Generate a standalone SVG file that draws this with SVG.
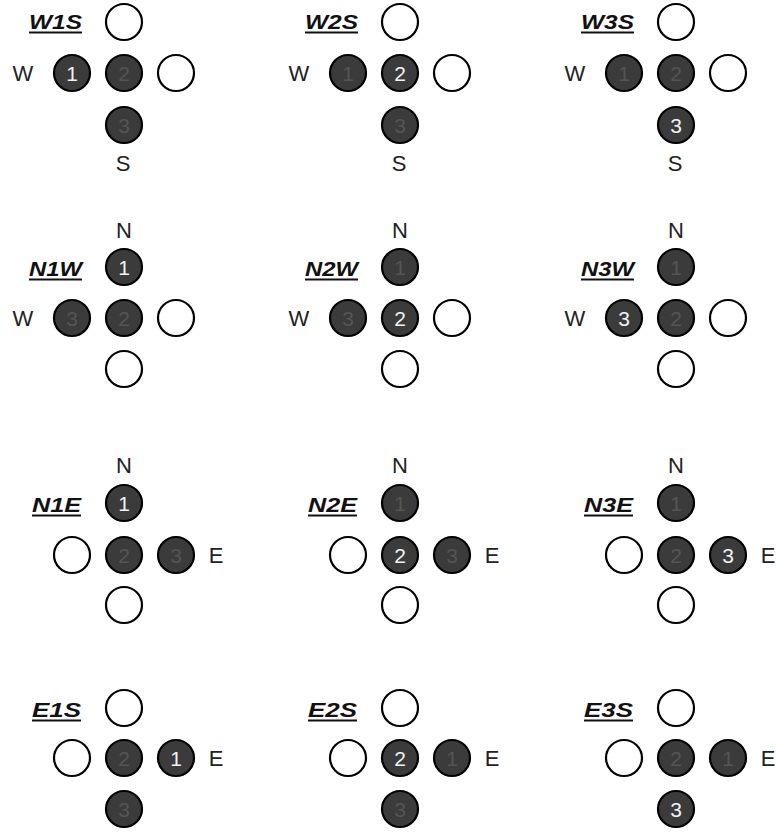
<svg xmlns="http://www.w3.org/2000/svg" width="776" height="832" viewBox="0 0 776 832">
<style>
.e{fill:#fff;stroke:#000;stroke-width:2.2}
.f{fill:#3b3b3b;stroke:#000;stroke-width:2.2}
.n{font-family:"Liberation Sans",Arial,sans-serif;font-size:21px;text-anchor:middle}
.h{fill:#f2f2f2}
.d{fill:#555}
.dir{font-family:"Liberation Sans",Arial,sans-serif;font-size:22px;fill:#222;text-anchor:middle}
.lab{font-family:"Liberation Sans",Arial,sans-serif;font-size:20px;font-weight:bold;font-style:italic;fill:#111}
.ul{stroke:#111;stroke-width:2}
</style>
<rect width="776" height="832" fill="#fff"/>
<g id="connectors"/>

<!-- Row 1: W?S -->
<g id="W1S">
<text class="lab" x="29" y="29" textLength="53" lengthAdjust="spacingAndGlyphs">W1S</text><line class="ul" x1="29" y1="32.5" x2="82" y2="32.5"/>
<circle class="e" cx="124" cy="22" r="18"/>
<circle class="f" cx="72" cy="73" r="18"/><text class="n h" x="72" y="80.5">1</text>
<circle class="f" cx="124" cy="73" r="18"/><text class="n d" x="124" y="80.5">2</text>
<circle class="e" cx="176" cy="73" r="18"/>
<circle class="f" cx="124" cy="125" r="18"/><text class="n d" x="124" y="132.5">3</text>
<text class="dir" x="23" y="81">W</text><text class="dir" x="123" y="171">S</text>
</g>
<g id="W2S">
<text class="lab" x="305" y="29" textLength="53" lengthAdjust="spacingAndGlyphs">W2S</text><line class="ul" x1="305" y1="32.5" x2="358" y2="32.5"/>
<circle class="e" cx="400" cy="22" r="18"/>
<circle class="f" cx="348" cy="73" r="18"/><text class="n d" x="348" y="80.5">1</text>
<circle class="f" cx="400" cy="73" r="18"/><text class="n h" x="400" y="80.5">2</text>
<circle class="e" cx="452" cy="73" r="18"/>
<circle class="f" cx="400" cy="125" r="18"/><text class="n d" x="400" y="132.5">3</text>
<text class="dir" x="299" y="81">W</text><text class="dir" x="399" y="171">S</text>
</g>
<g id="W3S">
<text class="lab" x="581" y="29" textLength="53" lengthAdjust="spacingAndGlyphs">W3S</text><line class="ul" x1="581" y1="32.5" x2="634" y2="32.5"/>
<circle class="e" cx="676" cy="22" r="18"/>
<circle class="f" cx="624" cy="73" r="18"/><text class="n d" x="624" y="80.5">1</text>
<circle class="f" cx="676" cy="73" r="18"/><text class="n d" x="676" y="80.5">2</text>
<circle class="e" cx="728" cy="73" r="18"/>
<circle class="f" cx="676" cy="125" r="18"/><text class="n h" x="676" y="132.5">3</text>
<text class="dir" x="575" y="81">W</text><text class="dir" x="675" y="171">S</text>
</g>

<!-- Row 2: N?W -->
<g id="N1W">
<text class="lab" x="29" y="276" textLength="53" lengthAdjust="spacingAndGlyphs">N1W</text><line class="ul" x1="29" y1="279.5" x2="82" y2="279.5"/>
<circle class="f" cx="124" cy="267" r="18"/><text class="n h" x="124" y="274.5">1</text>
<circle class="f" cx="72" cy="318" r="18"/><text class="n d" x="72" y="325.5">3</text>
<circle class="f" cx="124" cy="318" r="18"/><text class="n d" x="124" y="325.5">2</text>
<circle class="e" cx="176" cy="318" r="18"/>
<circle class="e" cx="124" cy="369" r="18"/>
<text class="dir" x="23" y="326">W</text><text class="dir" x="124" y="238">N</text>
</g>
<g id="N2W">
<text class="lab" x="305" y="276" textLength="53" lengthAdjust="spacingAndGlyphs">N2W</text><line class="ul" x1="305" y1="279.5" x2="358" y2="279.5"/>
<circle class="f" cx="400" cy="267" r="18"/><text class="n d" x="400" y="274.5">1</text>
<circle class="f" cx="348" cy="318" r="18"/><text class="n d" x="348" y="325.5">3</text>
<circle class="f" cx="400" cy="318" r="18"/><text class="n h" x="400" y="325.5">2</text>
<circle class="e" cx="452" cy="318" r="18"/>
<circle class="e" cx="400" cy="369" r="18"/>
<text class="dir" x="299" y="326">W</text><text class="dir" x="400" y="238">N</text>
</g>
<g id="N3W">
<text class="lab" x="581" y="276" textLength="53" lengthAdjust="spacingAndGlyphs">N3W</text><line class="ul" x1="581" y1="279.5" x2="634" y2="279.5"/>
<circle class="f" cx="676" cy="267" r="18"/><text class="n d" x="676" y="274.5">1</text>
<circle class="f" cx="624" cy="318" r="18"/><text class="n h" x="624" y="325.5">3</text>
<circle class="f" cx="676" cy="318" r="18"/><text class="n d" x="676" y="325.5">2</text>
<circle class="e" cx="728" cy="318" r="18"/>
<circle class="e" cx="676" cy="369" r="18"/>
<text class="dir" x="575" y="326">W</text><text class="dir" x="676" y="238">N</text>
</g>

<!-- Row 3: N?E -->
<g id="N1E">
<text class="lab" x="32" y="512" textLength="49" lengthAdjust="spacingAndGlyphs">N1E</text><line class="ul" x1="32" y1="515.5" x2="81" y2="515.5"/>
<circle class="f" cx="124" cy="503" r="18"/><text class="n h" x="124" y="510.5">1</text>
<circle class="e" cx="72" cy="555" r="18"/>
<circle class="f" cx="124" cy="555" r="18"/><text class="n d" x="124" y="562.5">2</text>
<circle class="f" cx="176" cy="555" r="18"/><text class="n d" x="176" y="562.5">3</text>
<circle class="e" cx="124" cy="605" r="18"/>
<text class="dir" x="124" y="473">N</text><text class="dir" x="216" y="563">E</text>
</g>
<g id="N2E">
<text class="lab" x="308" y="512" textLength="49" lengthAdjust="spacingAndGlyphs">N2E</text><line class="ul" x1="308" y1="515.5" x2="357" y2="515.5"/>
<circle class="f" cx="400" cy="503" r="18"/><text class="n d" x="400" y="510.5">1</text>
<circle class="e" cx="348" cy="555" r="18"/>
<circle class="f" cx="400" cy="555" r="18"/><text class="n h" x="400" y="562.5">2</text>
<circle class="f" cx="452" cy="555" r="18"/><text class="n d" x="452" y="562.5">3</text>
<circle class="e" cx="400" cy="605" r="18"/>
<text class="dir" x="400" y="473">N</text><text class="dir" x="492" y="563">E</text>
</g>
<g id="N3E">
<text class="lab" x="584" y="512" textLength="49" lengthAdjust="spacingAndGlyphs">N3E</text><line class="ul" x1="584" y1="515.5" x2="633" y2="515.5"/>
<circle class="f" cx="676" cy="503" r="18"/><text class="n d" x="676" y="510.5">1</text>
<circle class="e" cx="624" cy="555" r="18"/>
<circle class="f" cx="676" cy="555" r="18"/><text class="n d" x="676" y="562.5">2</text>
<circle class="f" cx="728" cy="555" r="18"/><text class="n h" x="728" y="562.5">3</text>
<circle class="e" cx="676" cy="605" r="18"/>
<text class="dir" x="676" y="473">N</text><text class="dir" x="768" y="563">E</text>
</g>

<!-- Row 4: E?S -->
<g id="E1S">
<text class="lab" x="32" y="717" textLength="49" lengthAdjust="spacingAndGlyphs">E1S</text><line class="ul" x1="32" y1="720.5" x2="81" y2="720.5"/>
<circle class="e" cx="124" cy="708" r="18"/>
<circle class="e" cx="72" cy="758" r="18"/>
<circle class="f" cx="124" cy="758" r="18"/><text class="n d" x="124" y="765.5">2</text>
<circle class="f" cx="176" cy="758" r="18"/><text class="n h" x="176" y="765.5">1</text>
<circle class="f" cx="124" cy="809" r="18"/><text class="n d" x="124" y="816.5">3</text>
<text class="dir" x="216" y="766">E</text>
</g>
<g id="E2S">
<text class="lab" x="308" y="717" textLength="49" lengthAdjust="spacingAndGlyphs">E2S</text><line class="ul" x1="308" y1="720.5" x2="357" y2="720.5"/>
<circle class="e" cx="400" cy="708" r="18"/>
<circle class="e" cx="348" cy="758" r="18"/>
<circle class="f" cx="400" cy="758" r="18"/><text class="n h" x="400" y="765.5">2</text>
<circle class="f" cx="452" cy="758" r="18"/><text class="n d" x="452" y="765.5">1</text>
<circle class="f" cx="400" cy="809" r="18"/><text class="n d" x="400" y="816.5">3</text>
<text class="dir" x="492" y="766">E</text>
</g>
<g id="E3S">
<text class="lab" x="584" y="717" textLength="49" lengthAdjust="spacingAndGlyphs">E3S</text><line class="ul" x1="584" y1="720.5" x2="633" y2="720.5"/>
<circle class="e" cx="676" cy="708" r="18"/>
<circle class="e" cx="624" cy="758" r="18"/>
<circle class="f" cx="676" cy="758" r="18"/><text class="n d" x="676" y="765.5">2</text>
<circle class="f" cx="728" cy="758" r="18"/><text class="n d" x="728" y="765.5">1</text>
<circle class="f" cx="676" cy="809" r="18"/><text class="n h" x="676" y="816.5">3</text>
<text class="dir" x="768" y="766">E</text>
</g>
</svg>
